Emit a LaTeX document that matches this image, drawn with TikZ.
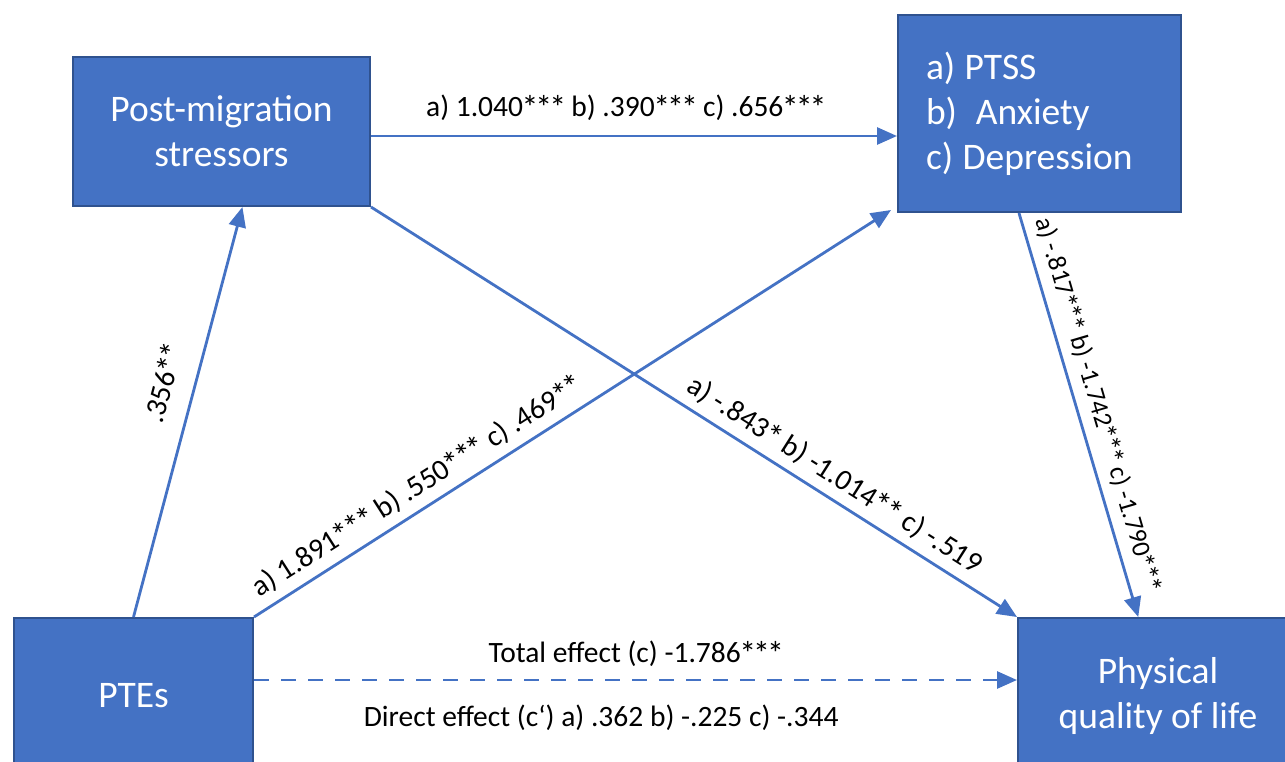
\documentclass[tikz,border=0pt]{standalone}
\usepackage{fontspec}
\setmainfont{Carlito}
\usetikzlibrary{arrows.meta,calc}
\definecolor{boxfill}{HTML}{4472C4}
\definecolor{boxline}{HTML}{2F528F}
\definecolor{pathblue}{HTML}{4472C4}
% significance star: a slightly larger asterisk kept at the normal advance width
\newcommand{\sig}{\makebox[0.47em]{\raisebox{-0.2ex}{\scalebox{1.15}{*}}}}
\begin{document}
\begin{tikzpicture}[x=1pt,y=-1pt,
  varbox/.style={draw=boxline, line width=2pt, fill=boxfill, text=white,
    font=\fontsize{37.5}{45}\selectfont, inner sep=0pt, anchor=north west},
  link/.style={draw=pathblue, line width=2.8pt, -{Triangle[length=20pt,width=17pt]}},
  coef/.style={font=\fontsize{29.5}{34}\selectfont, text=black, inner sep=0pt},
  smallcoef/.style={coef, font=\fontsize{26}{30}\selectfont}]
\useasboundingbox (0,0) rectangle (1285,761);
\clip (0,0) rectangle (1285,761);

% variables
\node[varbox, minimum width=297pt, minimum height=149pt, align=center]
  (stress) at (72,56) {Post-migration\\stressors};
\node[varbox, minimum height=197pt, text width=227pt, inner xsep=28pt, align=left]
  (ptss) at (897,14) {a)\hspace{0.25em}PTSS\\b)\hspace{0.5em}Anxiety\\c)\hspace{0.25em}Depression};
\node[varbox, minimum width=239pt, minimum height=156pt, align=center]
  (ptes) at (13,617) {PTEs};
\node[varbox, minimum width=280pt, minimum height=156pt, align=center]
  (phys) at (1017,617) {Physical\\quality of life};

% paths
\draw[link] ($(stress.east)+(0,4.5)$) -- ($(ptss.west |- stress.east)+(0,4.5)$)
  node[coef, pos=0.484, above=14pt] (lab1) {a) 1.040\sig\sig\sig{} b) .390\sig\sig\sig{} c) .656\sig\sig\sig};

\draw[link] (ptes.north) -- ($(stress.south west)!0.57!(stress.south east)$)
  node[coef, pos=0.55, sloped, above=17pt] (lab2) {.356\sig\sig};

\draw[link] (ptes.north east) -- ($(ptss.south west)+(-6,-3)$)
  node[coef, pos=0.275, sloped, above=8pt] (lab3) {a) 1.891\sig\sig\sig{} b) .550\sig\sig\sig{} c) .469\sig\sig};

\draw[link] (stress.south east) -- (phys.north west)
  node[coef, pos=0.70, sloped, above=8pt] (lab4) {a) -.843\sig{} b) -1.014\sig\sig{} c) -.519};

\draw[link] ($(ptss.south west)!0.428!(ptss.south east)$) -- ($(phys.north west)!0.43!(phys.north east)$)
  node[smallcoef, pos=0.49, sloped, above=9pt] (lab5) {a) -.817\sig\sig\sig{} b) -1.742\sig\sig\sig{} c) -1.790\sig\sig\sig};

\draw[link, dash pattern=on 15pt off 12pt] ($(ptes.east)+(0,-16)$) -- ($(phys.west)+(0,-16)$)
  node[coef, pos=0.5, above=12pt] (lab6) {Total effect (c) -1.786\sig\sig\sig}
  node[coef, pos=0.455, below=24pt] (lab7) {Direct effect (c‘) a) .362 b) -.225 c) -.344};
\end{tikzpicture}
\end{document}
